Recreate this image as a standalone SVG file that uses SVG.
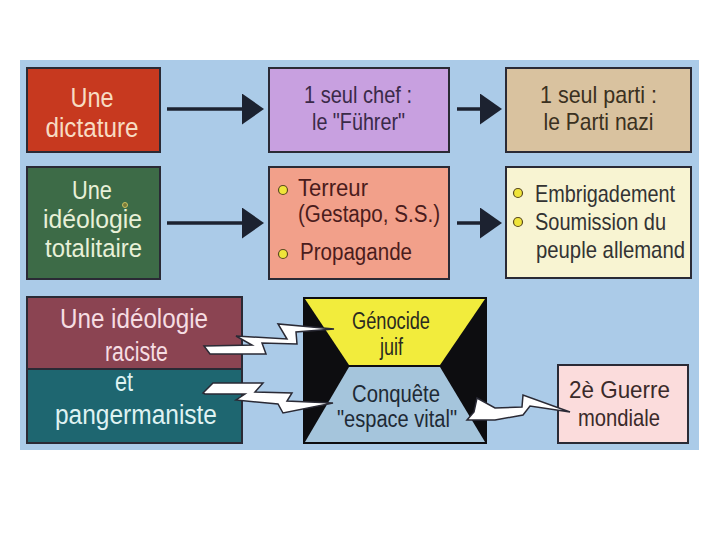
<svg xmlns="http://www.w3.org/2000/svg" width="720" height="540" viewBox="0 0 720 540">
<defs>
<style>
.box{stroke:#2a2a35;stroke-width:2}
.t{font-family:"Liberation Sans",Arial,sans-serif;text-anchor:middle}
.tl{font-family:"Liberation Sans",Arial,sans-serif;text-anchor:start}
.big{font-size:27px}
.mid{font-size:24px}
.sm{font-size:23px}
.arrow{stroke:#1c2230;stroke-width:3.5;fill:none;marker-end:url(#head)}
.bolt{fill:#ffffff;stroke:#2a2a35;stroke-width:1.5;stroke-linejoin:miter}
.bullet{fill:#efe43a;stroke:#5a4a20;stroke-width:1.2}
</style>
<marker id="head" markerUnits="userSpaceOnUse" markerWidth="24" markerHeight="32" refX="0" refY="15.5" orient="auto">
<path d="M0,0 L22,15.5 L0,31 Z" fill="#1c2230"/>
</marker>
</defs>
<rect width="720" height="540" fill="#ffffff"/>
<rect x="20" y="60" width="679" height="390" fill="#abcbe8"/>

<g id="dictature">
<rect class="box" x="27" y="68" width="133" height="84" fill="#c7391f"/>
<text class="t big" x="92" y="107" fill="#f7dcc3" textLength="43" lengthAdjust="spacingAndGlyphs">Une</text>
<text class="t big" x="92" y="137" fill="#f7dcc3" textLength="93" lengthAdjust="spacingAndGlyphs">dictature</text>
</g>

<g id="chef">
<rect class="box" x="269" y="68" width="180" height="84" fill="#c8a0e0"/>
<text class="t mid" x="358" y="103" fill="#3a2a48" textLength="108" lengthAdjust="spacingAndGlyphs">1 seul chef :</text>
<text class="t mid" x="358.5" y="130" fill="#3a2a48" textLength="93" lengthAdjust="spacingAndGlyphs">le "Führer"</text>
</g>

<g id="parti">
<rect class="box" x="506" y="68" width="185" height="84" fill="#d9c29f"/>
<text class="t mid" x="598.5" y="103" fill="#3a3020" textLength="117" lengthAdjust="spacingAndGlyphs">1 seul parti :</text>
<text class="t mid" x="598.5" y="130" fill="#3a3020" textLength="110" lengthAdjust="spacingAndGlyphs">le Parti nazi</text>
</g>

<g id="totalitaire">
<rect class="box" x="27" y="167" width="133" height="112" fill="#3d6b47"/>
<text class="t" font-size="26" x="92" y="199" fill="#e8f0d8" textLength="40" lengthAdjust="spacingAndGlyphs">Une</text>
<text class="t" font-size="26" x="92.5" y="228" fill="#e8f0d8" textLength="99" lengthAdjust="spacingAndGlyphs">idéologie</text>
<text class="t" font-size="26" x="93.5" y="257" fill="#e8f0d8" textLength="97" lengthAdjust="spacingAndGlyphs">totalitaire</text>
<circle cx="125" cy="205" r="2.5" fill="#7a7a3a" stroke="#c8c060" stroke-width="1"/>
</g>

<g id="terreur">
<rect class="box" x="269" y="167" width="180" height="112" fill="#f2a08a"/>
<circle class="bullet" cx="283" cy="190" r="4.5"/>
<circle class="bullet" cx="283" cy="254" r="4.5"/>
<text class="tl sm" x="298" y="196" fill="#4a1c1c" textLength="70" lengthAdjust="spacingAndGlyphs">Terreur</text>
<text class="tl sm" x="298" y="222" fill="#4a1c1c" textLength="142" lengthAdjust="spacingAndGlyphs">(Gestapo, S.S.)</text>
<text class="tl sm" x="300" y="260" fill="#4a1c1c" textLength="112" lengthAdjust="spacingAndGlyphs">Propagande</text>
</g>

<g id="embrigadement">
<rect class="box" x="506" y="167" width="185" height="111" fill="#f8f4d2"/>
<circle class="bullet" cx="518" cy="193" r="4.5"/>
<circle class="bullet" cx="518" cy="222" r="4.5"/>
<text class="tl mid" x="535" y="202" fill="#333333" textLength="140" lengthAdjust="spacingAndGlyphs">Embrigadement</text>
<text class="tl mid" x="535" y="230" fill="#333333" textLength="131" lengthAdjust="spacingAndGlyphs">Soumission du</text>
<text class="tl mid" x="536" y="258" fill="#333333" textLength="149" lengthAdjust="spacingAndGlyphs">peuple allemand</text>
</g>

<g id="raciste">
<rect class="box" x="27" y="297" width="215" height="72" fill="#8b4452"/>
<text class="t big" x="134" y="328" fill="#f6dde2" textLength="148" lengthAdjust="spacingAndGlyphs">Une idéologie</text>
<text class="t big" x="136.5" y="361" fill="#f6dde2" textLength="63" lengthAdjust="spacingAndGlyphs">raciste</text>
</g>

<g id="pangermaniste">
<rect class="box" x="27" y="369" width="215" height="74" fill="#1e6670"/>
<text class="t big" x="124" y="391" fill="#dff2f2" textLength="18" lengthAdjust="spacingAndGlyphs">et</text>
<text class="t big" x="136" y="424" fill="#dff2f2" textLength="162" lengthAdjust="spacingAndGlyphs">pangermaniste</text>
</g>

<g id="hourglass">
<rect x="303" y="297" width="184" height="147" fill="#0d0d10"/>
<polygon points="305,299 485,299 440,365 349,365" fill="#f2ec3c"/>
<polygon points="349,367 440,367 485,442 305,442" fill="#a5c5dc"/>
<text class="t sm" x="391" y="329" fill="#2a2a20" textLength="78" lengthAdjust="spacingAndGlyphs">Génocide</text>
<text class="t sm" x="391.5" y="355" fill="#2a2a20" textLength="23" lengthAdjust="spacingAndGlyphs">juif</text>
<text class="t sm" x="396" y="402" fill="#1e2a35" textLength="88" lengthAdjust="spacingAndGlyphs">Conquête</text>
<text class="t sm" x="397" y="427" fill="#1e2a35" textLength="120" lengthAdjust="spacingAndGlyphs">"espace vital"</text>
</g>

<g id="guerre">
<rect class="box" x="558" y="365" width="130" height="78" fill="#fbdcdc"/>
<text class="t mid" x="619.5" y="398" fill="#3a2a2a" textLength="101" lengthAdjust="spacingAndGlyphs">2è Guerre</text>
<text class="t mid" x="619" y="426" fill="#3a2a2a" textLength="82" lengthAdjust="spacingAndGlyphs">mondiale</text>
</g>

<g id="connectors">
<line class="arrow" x1="167" y1="109" x2="242" y2="109"/>
<line class="arrow" x1="457" y1="109" x2="480" y2="109"/>
<line class="arrow" x1="167" y1="223" x2="242" y2="223"/>
<line class="arrow" x1="457" y1="223" x2="480" y2="223"/>
<path class="bolt" d="M204,346 L252,345 L236,336 L287,339 L278,324 L334,329 L296,332 L297,344 L262,343 L266,354 L210,354 Z"/>
<path class="bolt" d="M203,393 L213,383 L263,383 L255,392 L292,393 L287,401 L333,403 L283,413 L278,404 L236,400 L245,394 L205,394 Z"/>
<path class="bolt" d="M477,398 L495,408 L522,407 L523,395 L570,412 L530,406 L523,415 L495,420 L467,420 L474,412 Z"/>
</g>
</svg>
